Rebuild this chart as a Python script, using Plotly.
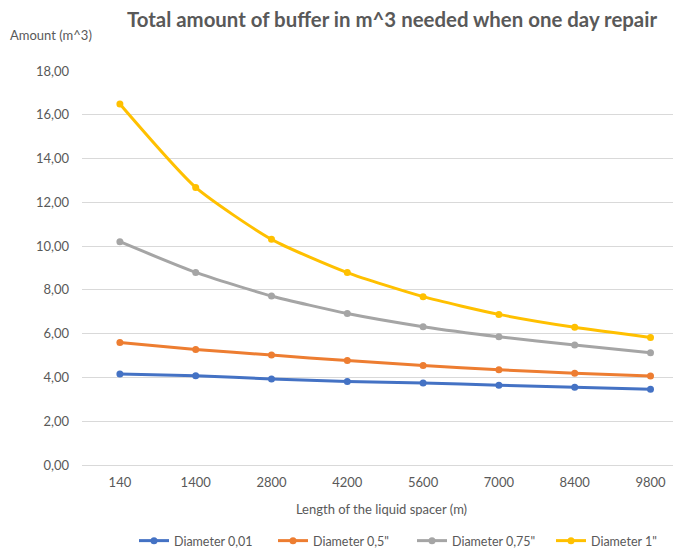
import plotly.graph_objects as go

categories = ["140", "1400", "2800", "4200", "5600", "7000", "8400", "9800"]
d001 = [4.16, 4.08, 3.93, 3.82, 3.75, 3.64, 3.55, 3.46]
d05 = [5.60, 5.28, 5.02, 4.77, 4.55, 4.35, 4.19, 4.07]
d075 = [10.20, 8.80, 7.72, 6.92, 6.32, 5.86, 5.48, 5.13]
d1 = [16.49, 12.68, 10.31, 8.79, 7.69, 6.88, 6.29, 5.83]
y_ticks = [0, 2, 4, 6, 8, 10, 12, 14, 16, 18]
y_tick_labels = ["0,00", "2,00", "4,00", "6,00", "8,00", "10,00", "12,00", "14,00", "16,00", "18,00"]

series = [
    ("Diameter 0,01", d001, "#4472C4"),
    ("Diameter 0,5\"", d05, "#ED7D31"),
    ("Diameter 0,75\"", d075, "#A5A5A5"),
    ("Diameter 1\"", d1, "#FFC000"),
]

# page has an 8px body margin; figure coordinates = page coordinates - 8
W, H = 673, 541
L, T, B = 74, 63, 84
plot_w, plot_h = W - L, H - T - B

font_family = "Lato, 'Open Sans', sans-serif"
fig = go.Figure()
for name, vals, col in series:
    fig.add_trace(go.Scatter(
        x=categories, y=vals, name=name, mode="lines+markers",
        line=dict(color=col, width=3, shape="spline", smoothing=0.6),
        marker=dict(color=col, size=7),
    ))

fig.update_layout(
    width=W, height=H,
    margin=dict(l=L, r=0, t=T, b=B, autoexpand=False),
    paper_bgcolor="white", plot_bgcolor="white",
    font=dict(family=font_family, color="#595959", size=13),
    title=dict(text="<b>Total amount of buffer in m^3 needed when one day repair</b>",
               x=384/W, xanchor="center", xref="container",
               y=1-12/H, yanchor="middle", yref="container",
               font=dict(size=20.4, color="#595959", family=font_family)),
    legend=dict(orientation="h", x=126/W, xanchor="left", xref="container",
                y=1-533/H, yanchor="middle", yref="container",
                font=dict(size=12.5, color="#595959"),
                itemwidth=30, entrywidth=94, traceorder="normal"),
    showlegend=True,
)
fig.update_xaxes(type="category", range=[-0.5, -0.5 + plot_w/75.8], showgrid=False, automargin=False,
                 showline=False, ticks="", ticklabelstandoff=8,
                 tickfont=dict(size=13, color="#595959"),
                 title=dict(text="Length of the liquid spacer (m)", font=dict(size=13, color="#595959"),
                            standoff=15))
fig.update_yaxes(range=[0, 18], tickvals=y_ticks, ticktext=y_tick_labels, automargin=False,
                 showgrid=True, gridcolor="#d9d9d9", gridwidth=1,
                 zeroline=True, zerolinecolor="#d9d9d9", zerolinewidth=1,
                 ticks="", ticklabelstandoff=12,
                 tickfont=dict(size=13, color="#595959"))
fig.add_annotation(text="Amount (m^3)", xref="paper", yref="paper",
                   x=-L/plot_w, y=1 + (T-27)/plot_h, xanchor="left", yanchor="middle",
                   showarrow=False, font=dict(size=13, color="#595959"))
fig.write_html("out.html")
